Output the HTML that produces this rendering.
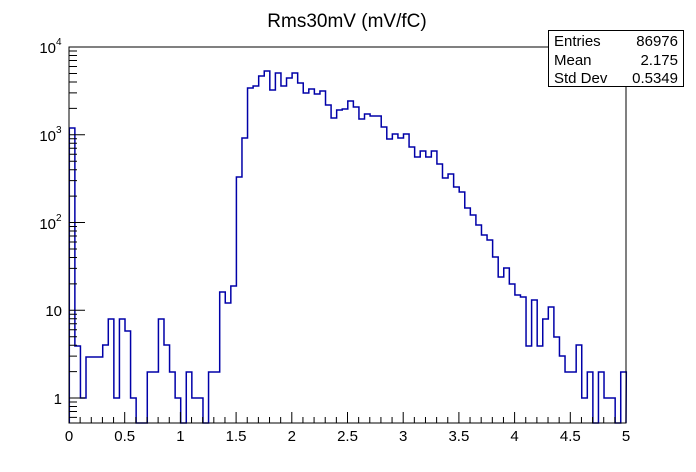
<!DOCTYPE html>
<html><head><meta charset="utf-8"><style>
html,body{margin:0;padding:0;background:#fff;}
svg{display:block;font-family:"Liberation Sans",sans-serif;}
</style></head><body>
<svg width="696" height="472" viewBox="0 0 696 472" xmlns="http://www.w3.org/2000/svg">
<rect width="696" height="472" fill="#fff"/>
<text x="347" y="27" font-size="19" text-anchor="middle">Rms30mV (mV/fC)</text>
<path id="h" fill="none" stroke="#0000a8" stroke-width="1.5" d=""/>
<rect x="69" y="47" width="557" height="376" fill="none" stroke="#000" stroke-width="1"/>
<path stroke="#000" stroke-width="1" fill="none" d="
M69 423V412 M80.14 423V417 M91.28 423V417 M102.42 423V417 M113.56 423V417 M124.7 423V412
M135.84 423V417 M146.98 423V417 M158.12 423V417 M169.26 423V417 M180.4 423V412
M191.54 423V417 M202.68 423V417 M213.82 423V417 M224.96 423V417 M236.1 423V412
M247.24 423V417 M258.38 423V417 M269.52 423V417 M280.66 423V417 M291.8 423V412
M302.94 423V417 M314.08 423V417 M325.22 423V417 M336.36 423V417 M347.5 423V412
M358.64 423V417 M369.78 423V417 M380.92 423V417 M392.06 423V417 M403.2 423V412
M414.34 423V417 M425.48 423V417 M436.62 423V417 M447.76 423V417 M458.9 423V412
M470.04 423V417 M481.18 423V417 M492.32 423V417 M503.46 423V417 M514.6 423V412
M525.74 423V417 M536.88 423V417 M548.02 423V417 M559.16 423V417 M570.3 423V412
M581.44 423V417 M592.58 423V417 M603.72 423V417 M614.86 423V417 M626 423V412
M69 402H77 M69 406.5H77 M69 411.5H77 M69 417.4H77
M69 398H85 M69 371.6H77 M69 356.1H77 M69 345.2H77 M69 336.7H77 M69 329.7H77 M69 323.8H77 M69 318.8H77 M69 314.3H77
M69 310.25H85 M69 283.85H77 M69 268.35H77 M69 257.45H77 M69 248.95H77 M69 241.95H77 M69 236.05H77 M69 231.05H77 M69 226.55H77
M69 222.5H85 M69 196.1H77 M69 180.6H77 M69 169.7H77 M69 161.2H77 M69 154.2H77 M69 148.3H77 M69 143.3H77 M69 138.8H77
M69 134.75H85 M69 108.35H77 M69 92.85H77 M69 81.95H77 M69 73.45H77 M69 66.45H77 M69 60.55H77 M69 55.55H77 M69 51.05H77
M69 47H85"/>
<g font-size="15" text-anchor="middle">
<text x="69" y="441">0</text><text x="124.7" y="441">0.5</text><text x="180.4" y="441">1</text>
<text x="236.1" y="441">1.5</text><text x="291.8" y="441">2</text><text x="347.5" y="441">2.5</text>
<text x="403.2" y="441">3</text><text x="458.9" y="441">3.5</text><text x="514.6" y="441">4</text>
<text x="570.3" y="441">4.5</text><text x="626" y="441">5</text>
</g>
<g font-size="15" text-anchor="end">
<text x="62" y="404">1</text>
<text x="62" y="316">10</text>
<text x="56" y="229">10</text><text x="56" y="221" font-size="10" text-anchor="start">2</text>
<text x="56" y="141">10</text><text x="56" y="133" font-size="10" text-anchor="start">3</text>
<text x="56" y="53">10</text><text x="56" y="45" font-size="10" text-anchor="start">4</text>
</g>
<rect x="548.5" y="30.5" width="135" height="56" fill="#fff" stroke="#000"/>
<g font-size="15">
<text x="554" y="46">Entries</text><text x="678" y="46" text-anchor="end">86976</text>
<text x="554" y="65">Mean</text><text x="678" y="65" text-anchor="end">2.175</text>
<text x="554" y="83">Std Dev</text><text x="678" y="83" text-anchor="end">0.5349</text>
</g>
<script>
var v=[128,346,398,357,357,357,345,319,398,319,331,398,423,423,372,372,319,345,372,398,423,372,398,398,423,372,372,292,303,286,
177,138,88,86,76,71,90,73,86,78,73,83,93,89,94,91,105,118,110,109,101,107,119,114,116,116,127,139,134,138,
134,147,157,151,157,151,164,178,174,187,192,208,215,225,235,240,257,277,268,284,295,297,346,300,346,319,307,337,356,372,372,345,398,372,423,372,398,398,423,372];
var w=5.57,x0=69.3,d="M69.3 423";
for(var i=0;i<100;i++){var a=x0+i*w,b=a+w;d+=" L"+a.toFixed(2)+" "+v[i]+" L"+b.toFixed(2)+" "+v[i];}
d+=" L626 423";
document.getElementById("h").setAttribute("d",d);
</script>
</svg>
</body></html>
